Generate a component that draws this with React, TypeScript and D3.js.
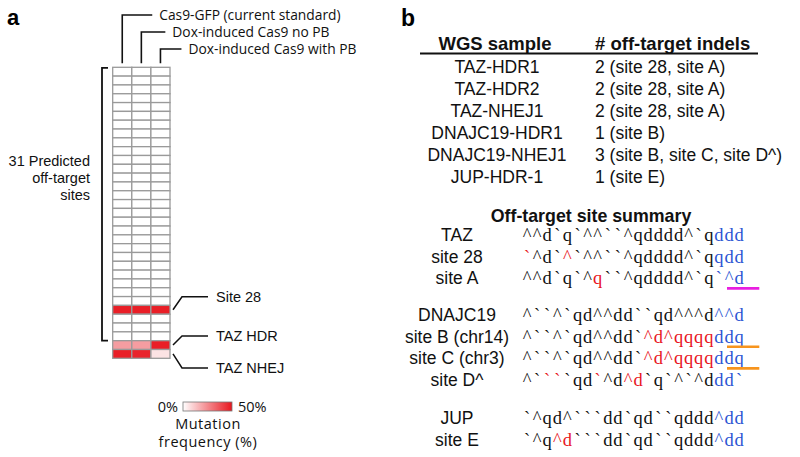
import React from 'react';
import * as d3 from 'd3';

// ---- panel a data ----
const conditions = ['Cas9-GFP (current standard)', 'Dox-induced Cas9 no PB', 'Dox-induced Cas9 with PB'];
// 31 predicted off-target sites, then TAZ HDR and TAZ NHEJ (on-target)
const gfpFreq = [0, 0, 0, 0, 0, 0, 0, 0, 0, 0, 0, 0, 0, 0, 0, 0, 0, 0, 0, 0, 0, 0, 0, 0, 0, 0, 0, 48, 0, 0, 0, 21, 48];
const doxNoPbFreq = [0, 0, 0, 0, 0, 0, 0, 0, 0, 0, 0, 0, 0, 0, 0, 0, 0, 0, 0, 0, 0, 0, 0, 0, 0, 0, 0, 48, 0, 0, 0, 21, 47];
const doxPbFreq = [0, 0, 0, 0, 0, 0, 0, 0, 0, 0, 0, 0, 0, 0, 0, 0, 0, 0, 0, 0, 0, 0, 0, 0, 0, 0, 0, 48, 0, 0, 0, 48, 6];
const freqByCondition = [gfpFreq, doxNoPbFreq, doxPbFreq];
const predictedCount = 31;
const markedRows = ['Site 28', 'TAZ HDR', 'TAZ NHEJ'];
const markedRowIndex = [27, 31, 32];
const legendTicks = ['0%', '50%'];

// ---- panel b data ----
const wgsSamples = ['TAZ-HDR1', 'TAZ-HDR2', 'TAZ-NHEJ1', 'DNAJC19-HDR1', 'DNAJC19-NHEJ1', 'JUP-HDR-1'];
const offTargetIndels = ['2 (site 28, site A)', '2 (site 28, site A)', '2 (site 28, site A)', '1 (site B)', '3 (site B, site C, site D^)', '1 (site E)'];

const siteGroups = [
  ['TAZ', 'site 28', 'site A'],
  ['DNAJC19', 'site B (chr14)', 'site C (chr3)', 'site D^'],
  ['JUP', 'site E'],
];
const siteSeqs = [
  ['^^d`q`^^``^qdddd^`qddd', '`^d`^`^^``^qdddd^`qqdd', '^^d`q`^q``^qdddd^`q`^d'],
  ['^``^`qd^^dd``qd^^^d^^d', '^``^`qd^^dd`^d^qqqqddq', '^``^`qd^^dd`^d^qqqqddq', '^````qd`^d^d`q`^`^ddd`'],
  ['`^qd^```dd`qd``qddd^dd', '`^q^d```dd`qd``qddd^dd'],
];
// k = match, r = mismatch, b = PAM
const siteMasks = [
  ['kkkkkkkkkkkkkkkkkkkbbb', 'rkkkrkkkkkkkkkkkkkkbbb', 'kkkkkkkrkkkkkkkkkkkbbb'],
  ['kkkkkkkkkkkkkkkkkkkbbb', 'kkkkkkkkkkkkrrrrrrrbbb', 'kkkkkkkkkkkkrrrrrrrbbb', 'kkrrkkkrkkrrkkkkkkkbbb'],
  ['kkkkkkkkkkkkkkkkkkkbbb', 'kkkrrkkkkkkkkkkkkkkbbb'],
];
// underlined PAM positions: [group, row, from, to, kind]
const pamMarks: [number, number, number, number, string][] = [
  [0, 2, 20, 23, 'nonNGG'],
  [1, 1, 20, 23, 'NAG'],
  [1, 2, 20, 23, 'NAG'],
];

const RED = '#e8161e';
const BLUE = '#2b55d3';
const maskColor: Record<string, string> = { k: '#111', r: RED, b: BLUE };
const markColor: Record<string, string> = { nonNGG: '#e81ee0', NAG: '#f7941d' };

const SANS = '"Liberation Sans", Arial, sans-serif';
const HUM = '"Open Sans", sans-serif';
const SERIF = '"Liberation Serif", "Times New Roman", serif';

export default function App() {
  const W = 800;
  const H = 457;

  // heatmap
  const nRows = gfpFreq.length;
  const x = d3.scaleBand<number>().domain(d3.range(conditions.length)).range([112.7, 170]);
  const y = d3.scaleBand<number>().domain(d3.range(nRows)).range([67.3, 358.3]);
  const color = d3.scaleLinear<string>().domain([0, 50]).range(['#ffffff', RED]).clamp(true);
  const labelDy = [-13, -9, 14];
  const headerTop = [15, 32, 49];
  const headerGap = [37, 31, 28];

  // table
  const rowY = d3.scaleLinear().domain([0, 1]).range([73, 95]);
  // sequences
  const seqX = d3.scaleLinear().domain([0, 1]).range([522, 532.1]);
  const groupTop = [241, 321, 424];
  const seqStep = 21.7;

  return (
    <div style={{ position: 'fixed', left: 0, top: 0 }}>
      <svg width={W} height={H} style={{ display: 'block', background: '#fff' }}>
        {/* panel letters */}
        <text x={7} y={25} fontFamily={SANS} fontWeight="bold" fontSize={22}>a</text>
        <text x={401} y={26} fontFamily={SANS} fontWeight="bold" fontSize={23}>b</text>

        {/* column headers */}
        {conditions.map((c, i) => {
          const cx = x(i)! + x.bandwidth() / 2;
          return (
            <g key={c}>
              <path d={`M${cx},${y(0)! - 4}V${headerTop[i]}H${cx + headerGap[i] - 7}`} fill="none" stroke="#111" strokeWidth={1.6} />
              <text x={cx + headerGap[i]} y={headerTop[i]} dy="0.35em" fontFamily={HUM} fontSize={13.8} fill="#111">{c}</text>
            </g>
          );
        })}

        {/* heatmap cells */}
        {freqByCondition.map((vals, ci) =>
          vals.map((v, ri) => (
            <rect key={`${ci}-${ri}`} x={x(ci)} y={y(ri)} width={x.bandwidth()} height={y.bandwidth()}
              fill={color(v)} stroke="#9a9a9a" strokeWidth={1.3} />
          ))
        )}

        {/* bracket for predicted sites */}
        <path d={`M108,${y(0)! + 0.5}H102V${y(predictedCount - 1)! + y.bandwidth()}H108`} fill="none" stroke="#111" strokeWidth={1.8} />
        {['31 Predicted', 'off-target', 'sites'].map((t, i) => (
          <text key={t} x={90} y={161 + i * 17.2} dy="0.35em" textAnchor="end" fontFamily={SANS} fontSize={14.5} fill="#111">{t}</text>
        ))}

        {/* marked rows */}
        {markedRows.map((t, i) => {
          const ry = y(markedRowIndex[i])! + y.bandwidth() / 2;
          const ly = ry + labelDy[i];
          return (
            <g key={t}>
              <path d={`M173,${ry}L182,${ly}H208`} fill="none" stroke="#111" strokeWidth={1.5} />
              <text x={216} y={ly} dy="0.36em" fontFamily={SANS} fontSize={14.5} fill="#111">{t}</text>
            </g>
          );
        })}

        {/* legend */}
        <defs>
          <linearGradient id="mutGrad" x1="0" x2="1" y1="0" y2="0">
            <stop offset="0%" stopColor={color(0)} />
            <stop offset="100%" stopColor={color(50)} />
          </linearGradient>
        </defs>
        <rect x={183} y={402} width={49} height={9} fill="url(#mutGrad)" stroke="#777" strokeWidth={0.8} />
        <text x={178} y={406.5} dy="0.36em" textAnchor="end" fontFamily={HUM} fontSize={14.5} fill="#111">{legendTicks[0]}</text>
        <text x={238} y={406.5} dy="0.36em" fontFamily={HUM} fontSize={14.5} fill="#111">{legendTicks[1]}</text>
        <text x={208} y={424} dy="0.36em" textAnchor="middle" fontFamily={HUM} fontSize={14.5} letterSpacing={0.5} fill="#111">Mutation</text>
        <text x={208} y={442} dy="0.36em" textAnchor="middle" fontFamily={HUM} fontSize={14.5} letterSpacing={0.5} fill="#111">frequency (%)</text>

        {/* panel b table */}
        <text x={495} y={50} textAnchor="middle" fontFamily={SANS} fontWeight="bold" fontSize={18.5} fill="#111">WGS sample</text>
        <text x={595} y={50} fontFamily={SANS} fontWeight="bold" fontSize={18.5} fill="#111"># off-target indels</text>
        <line x1={420} x2={758} y1={53.5} y2={53.5} stroke="#111" strokeWidth={2} />
        {wgsSamples.map((s, i) => (
          <g key={s}>
            <text x={497} y={rowY(i)} textAnchor="middle" fontFamily={SANS} fontSize={17.5} fill="#111">{s}</text>
            <text x={595} y={rowY(i)} fontFamily={SANS} fontSize={17.5} fill="#111">{offTargetIndels[i]}</text>
          </g>
        ))}

        {/* off-target site summary */}
        <text x={591} y={222} textAnchor="middle" fontFamily={SANS} fontWeight="bold" fontSize={17.8} fill="#111">Off-target site summary</text>
        {siteGroups.map((names, gi) =>
          names.map((n, ri) => {
            const by = groupTop[gi] + ri * seqStep;
            const seq = siteSeqs[gi][ri];
            const mask = siteMasks[gi][ri];
            return (
              <g key={`${gi}-${ri}`}>
                <text x={457} y={by} textAnchor="middle" fontFamily={SANS} fontSize={17.5} fill="#111">{n}</text>
                {seq.split('').map((ch, k) => (
                  <text key={k} x={seqX(k) + 5} y={by} textAnchor="middle" fontFamily={SERIF} fontSize={18.5}
                    fill={maskColor[mask[k]]}>{ch}</text>
                ))}
              </g>
            );
          })
        )}
        {pamMarks.map(([gi, ri, from, to, kind], i) => {
          const by = groupTop[gi] + ri * seqStep + 4;
          return (
            <line key={i} x1={seqX(from) + 3} x2={seqX(to) + 5} y1={by} y2={by}
              stroke={markColor[kind]} strokeWidth={2.6} />
          );
        })}
      </svg>
    </div>
  );
}
